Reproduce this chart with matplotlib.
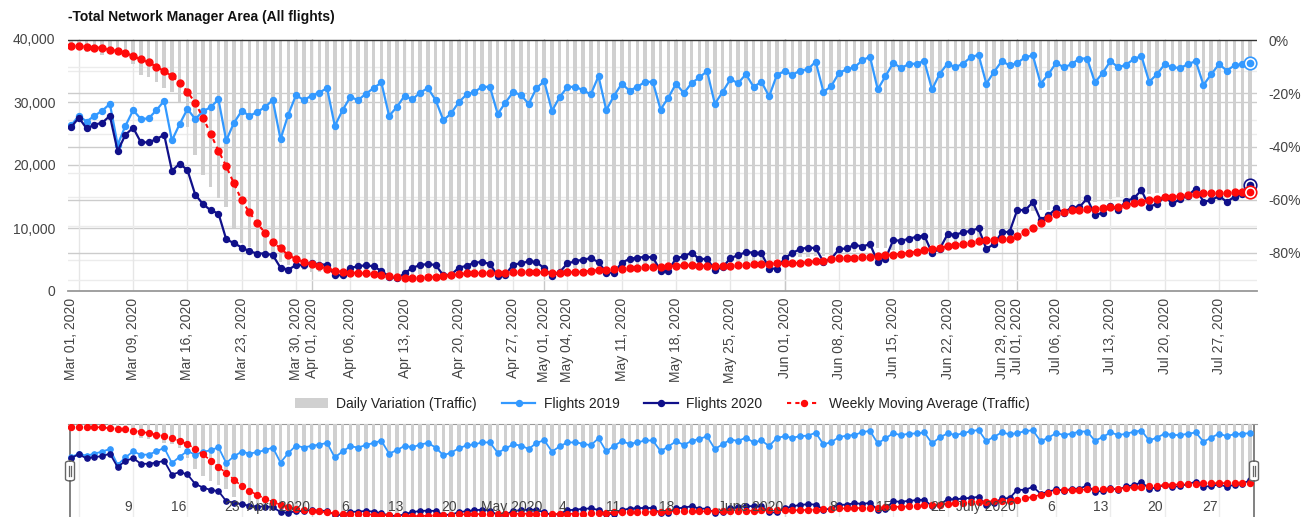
import numpy as np
import pandas as pd
import matplotlib
matplotlib.use("Agg")
import matplotlib.pyplot as plt
from matplotlib.lines import Line2D
from matplotlib.patches import Patch, FancyBboxPatch
import matplotlib.transforms as mtransforms

plt.rcParams['font.family'] = ['Liberation Sans', 'DejaVu Sans']

# ---------------- data ----------------
dates = pd.date_range('2020-03-01', '2020-07-31', freq='D')

flights_2019 = [
    26300, 27800, 26900, 27800, 28600, 29700, 23200, 26200, 28700, 27300,
    27400, 28700, 30200, 23900, 26500, 28900, 27300, 28500, 29200, 30400,
    23900, 26700, 28600, 27800, 28400, 29200, 30300, 24100, 28000, 31100,
    30300, 31000, 31500, 32200, 26200, 28700, 30800, 30300, 31300, 32200,
    33100, 27800, 29200, 31000, 30400, 31500, 32200, 30300, 27100, 28200,
    30000, 31200, 31600, 32400, 32400, 28100, 29900, 31600, 31100, 29700,
    32200, 33300, 28600, 30800, 32400, 32400, 31900, 31200, 34100, 28700,
    31000, 32900, 31800, 32400, 33200, 33200, 28800, 30700, 32900, 31400,
    33000, 33900, 34900, 29700, 31600, 33600, 33000, 34400, 32400, 33200,
    30900, 34300, 34900, 34300, 35000, 35200, 36400, 31600, 32500, 34600,
    35200, 35500, 36600, 37200, 32000, 34100, 36200, 35400, 36000, 36100,
    36500, 32000, 34500, 36100, 35500, 36100, 37100, 37500, 32900, 34800,
    36500, 35800, 36200, 37100, 37400, 32900, 34400, 36200, 35500, 36000,
    36900, 36900, 33100, 34600, 36500, 35500, 35900, 36800, 37300, 33200,
    34400, 36000, 35500, 35400, 36000, 36500, 32700, 34400, 36000, 35000,
    35800, 36000, 36200]

flights_2020 = [
    26000, 27500, 25800, 26400, 26700, 27800, 22200, 24800, 25900, 23600,
    23600, 24100, 24800, 19100, 20200, 19200, 15300, 13800, 12800, 12300,
    8200, 7600, 6900, 6300, 5950, 5950, 5700, 3700, 3400, 4100,
    4100, 4500, 4200, 4200, 2500, 2500, 3700, 3900, 4100, 3900,
    3200, 2300, 2000, 2800, 3700, 4100, 4300, 4100, 2500, 2600,
    3700, 4000, 4500, 4600, 4300, 2400, 2600, 4200, 4400, 4700,
    4600, 3600, 2400, 3000, 4400, 4700, 5000, 5200, 4600, 2900,
    2900, 4500, 5100, 5300, 5400, 5350, 3200, 3250, 5200, 5500,
    6100, 5050, 5100, 3350, 3750, 5200, 5700, 6150, 6100, 6000,
    3550, 3550, 5200, 6050, 6650, 6900, 6800, 4650, 5100, 6650,
    6750, 7350, 7050, 7450, 4600, 5100, 8100, 7950, 8300, 8600,
    8800, 6050, 6700, 9000, 8950, 9300, 9550, 9950, 6700, 7450,
    9300, 9400, 12900, 12800, 14100, 11300, 12000, 13100, 12450, 13250,
    13300, 14700, 12000, 12450, 13550, 12800, 14300, 14700, 16000, 13400,
    13800, 14950, 13900, 14550, 15150, 16250, 14200, 14400, 15100, 14150,
    14950, 15400, 16800]

daily_variation = [
    -1.5, -2.0, -4.4, -4.4, -5.6, -5.0, -5.6, -6.5, -9.0, -13.2,
    -13.8, -15.7, -18.0, -19.4, -23.2, -32.6, -43.2, -50.8, -55.1, -59.5,
    -62.7, -70.8, -76.4, -77.7, -80.0, -81.5, -82.5, -83.5, -84.5, -85.5,
    -86.5, -87.0, -87.2, -87.4, -87.8, -88.2, -88.6, -89.0, -89.4, -89.6,
    -89.6, -89.4, -89.0, -88.6, -88.3, -87.9, -87.6, -87.5, -87.4, -87.5,
    -87.6, -87.2, -87.0, -87.1, -87.2, -87.4, -87.6, -87.4, -87.2, -87.0,
    -86.8, -86.5, -86.3, -86.2, -86.0, -85.8, -85.6, -85.4, -85.3, -85.2,
    -85.0, -84.8, -84.7, -84.6, -84.7, -84.8, -85.0, -85.0, -84.8, -84.6,
    -84.4, -84.2, -84.0, -84.0, -83.9, -83.9, -83.8, -83.6, -83.3, -83.0,
    -82.6, -82.2, -82.0, -81.9, -81.7, -81.5, -81.3, -81.0, -80.6, -80.3,
    -80.0, -79.5, -79.0, -78.6, -78.3, -78.0, -79.0, -78.8, -78.5, -78.0,
    -77.6, -77.2, -76.8, -76.4, -76.0, -75.6, -75.3, -75.0, -74.8, -74.6,
    -74.4, -74.2, -65.0, -64.5, -64.2, -64.0, -63.7, -63.4, -63.0, -62.6,
    -62.0, -61.4, -60.8, -60.2, -59.8, -59.1, -58.9, -58.6, -58.3, -57.9,
    -57.6, -57.4, -57.3, -57.3, -57.2, -57.1, -57.0, -56.9, -56.9, -56.8,
    -56.8, -56.7, -56.6]

weekly_moving_avg = [
    -2.1, -2.3, -2.5, -2.8, -2.9, -3.8, -4.0, -4.8, -6.0, -7.3,
    -8.4, -10.0, -11.7, -13.5, -16.0, -19.4, -23.6, -29.1, -35.3, -41.6,
    -47.4, -53.9, -60.2, -64.8, -68.9, -72.4, -75.8, -78.3, -80.8, -82.3,
    -83.4, -84.2, -85.0, -85.9, -86.7, -87.1, -87.4, -87.5, -87.7, -88.0,
    -88.3, -88.7, -89.1, -89.4, -89.5, -89.4, -89.1, -88.9, -88.6, -88.4,
    -87.9, -87.7, -87.6, -87.5, -87.4, -87.6, -87.5, -87.2, -87.1, -87.1,
    -87.2, -87.3, -87.6, -87.4, -87.3, -87.2, -87.0, -86.7, -86.4, -86.4,
    -86.0, -85.9, -85.8, -85.5, -85.4, -85.3, -85.2, -85.0, -84.8, -84.7,
    -84.7, -84.8, -84.9, -85.0, -85.0, -84.8, -84.7, -84.5, -84.2, -84.0,
    -84.0, -83.9, -83.9, -83.9, -83.7, -83.5, -83.1, -82.9, -82.3, -82.0,
    -82.0, -81.8, -81.6, -81.5, -81.3, -80.9, -80.6, -80.3, -80.0, -79.5,
    -79.0, -78.6, -78.3, -77.4, -77.0, -76.5, -76.2, -75.6, -75.3, -75.0,
    -74.9, -74.7, -73.6, -72.3, -70.6, -68.7, -67.0, -65.4, -64.5, -63.9,
    -63.7, -63.5, -63.3, -63.2, -62.9, -62.7, -62.0, -61.4, -60.8, -60.2,
    -59.8, -59.1, -58.9, -58.6, -58.3, -57.9, -57.6, -57.4, -57.3, -57.3,
    -57.2, -57.1, -57.0]

main_tick_dates = ['2020-03-01', '2020-03-09', '2020-03-16', '2020-03-23', '2020-03-30',
                   '2020-04-01', '2020-04-06', '2020-04-13', '2020-04-20', '2020-04-27',
                   '2020-05-01', '2020-05-04', '2020-05-11', '2020-05-18', '2020-05-25',
                   '2020-06-01', '2020-06-08', '2020-06-15', '2020-06-22', '2020-06-29',
                   '2020-07-01', '2020-07-06', '2020-07-13', '2020-07-20', '2020-07-27']
main_tick_labels = ['Mar 01, 2020', 'Mar 09, 2020', 'Mar 16, 2020', 'Mar 23, 2020', 'Mar 30, 2020',
                    'Apr 01, 2020', 'Apr 06, 2020', 'Apr 13, 2020', 'Apr 20, 2020', 'Apr 27, 2020',
                    'May 01, 2020', 'May 04, 2020', 'May 11, 2020', 'May 18, 2020', 'May 25, 2020',
                    'Jun 01, 2020', 'Jun 08, 2020', 'Jun 15, 2020', 'Jun 22, 2020', 'Jun 29, 2020',
                    'Jul 01, 2020', 'Jul 06, 2020', 'Jul 13, 2020', 'Jul 20, 2020', 'Jul 27, 2020']
nav_tick_dates = ['2020-03-09', '2020-03-16', '2020-03-23', '2020-04-01', '2020-04-06',
                  '2020-04-13', '2020-04-20', '2020-05-01', '2020-05-04', '2020-05-11',
                  '2020-05-18', '2020-06-01', '2020-06-08', '2020-06-15', '2020-06-22',
                  '2020-07-01', '2020-07-06', '2020-07-13', '2020-07-20', '2020-07-27']
nav_tick_labels = ['9', '16', '23', 'April 2020', '6', '13', '20', 'May 2020', '4', '11',
                   '18', 'June 2020', '8', '15', '22', 'July 2020', '6', '13', '20', '27']
left_ticks = [0, 10000, 20000, 30000, 40000]
left_tick_labels = ['0', '10,000', '20,000', '30,000', '40,000']
right_ticks = [0, -20, -40, -60, -80]
right_tick_labels = ['0%', '-20%', '-40%', '-60%', '-80%']

series_labels = ['Daily Variation (Traffic)', 'Flights 2019', 'Flights 2020',
                 'Weekly Moving Average (Traffic)']
title = '-Total Network Manager Area (All flights)'

# ---------------- styling ----------------
C19 = '#3399ff'
C20 = '#10108a'
CMA = '#ff0a0a'
CBAR = '#d0d0d0'
TXT = '#444444'

x = (dates - dates[0]).days.values
xlim = (-0.4, 152.9)
mondays = pd.date_range('2020-03-02', '2020-07-31', freq='7D')
month_starts = pd.to_datetime(['2020-04-01', '2020-05-01', '2020-06-01', '2020-07-01'])
mon_x = (mondays - dates[0]).days.values
mstart_x = (month_starts - dates[0]).days.values
main_tx = (pd.to_datetime(main_tick_dates) - dates[0]).days.values
nav_tx = (pd.to_datetime(nav_tick_dates) - dates[0]).days.values

W, H = 1310, 517
fig = plt.figure(figsize=(W / 100, H / 100), dpi=100)


def rect(l, t, r, b):
    return [l / W, 1 - b / H, (r - l) / W, (b - t) / H]


def make_stack(r):
    g = fig.add_axes(r)
    b = g.twinx()
    l = g.twinx()
    m = g.twinx()
    for i, a in enumerate((g, b, l, m)):
        a.set_zorder(i)
        a.set_xlim(*xlim)
        for s in a.spines.values():
            s.set_visible(False)
        if i > 0:
            a.patch.set_visible(False)
    g.set_ylim(0, 40000)
    l.set_ylim(0, 40000)
    b.set_ylim(-94.3, 0.4)
    m.set_ylim(-94.3, 0.4)
    return g, b, l, m


# ---------------- main chart ----------------
axg, axb, axl, axm = make_stack(rect(68, 39, 1257, 291))

for v in range(5000, 40000, 5000):
    axg.axhline(v, color='#cccccc' if v % 10000 == 0 else '#ececec', lw=1, zorder=0)
for v in range(-90, 0, 10):
    axb.axhline(v, color='#cccccc' if v % 20 == 0 else '#ececec', lw=1, zorder=0)
for xv in mon_x:
    axg.axvline(xv, color='#e6e6e6', lw=1, zorder=0)
for xv in mstart_x:
    axg.axvline(xv, color='#c8c8c8', lw=1, zorder=0)

axb.bar(x, daily_variation, width=0.45, color=CBAR, zorder=2)
axb.axhline(0, color='#333333', lw=1, zorder=3)
axg.spines['bottom'].set_visible(True)
axg.spines['bottom'].set_color('#999999')
axg.spines['bottom'].set_linewidth(1.3)

axl.plot(x, flights_2019, color=C19, lw=1.6, marker='o', ms=4.3, zorder=3)
axl.plot(x, flights_2020, color=C20, lw=1.6, marker='o', ms=4.3, zorder=4)
axm.plot(x, weekly_moving_avg, color=CMA, lw=1.5, ls=(0, (2, 2)), marker='o', ms=5, zorder=5)

# highlighted last points
for a, ys, c in ((axl, flights_2019, C19), (axl, flights_2020, C20), (axm, weekly_moving_avg, CMA)):
    a.plot(x[-1], ys[-1], 'o', ms=9, mfc='white', mec=c, mew=1.2, zorder=6)
    a.plot(x[-1], ys[-1], 'o', ms=4.5, color=c, zorder=7)

axg.set_yticks(left_ticks)
axg.set_yticklabels(left_tick_labels)
axg.tick_params(axis='y', length=0, pad=9, labelsize=10, labelcolor=TXT)
axb.set_yticks([])
axl.set_yticks([])
axm.set_yticks(right_ticks)
axm.set_yticklabels(right_tick_labels)
axm.tick_params(axis='y', length=0, pad=8, labelsize=10, labelcolor=TXT)
for t in axm.get_yticklabels():
    t.set_horizontalalignment('left')

axg.set_xticks(main_tx)
axg.set_xticklabels(main_tick_labels, rotation=90)
axg.tick_params(axis='x', length=0, pad=5, labelsize=10, labelcolor=TXT)

fig.text(68 / W, 1 - 17 / H, title, fontsize=10, fontweight='bold', color='#111111',
         ha='left', va='center')

# ---------------- legend ----------------
handles = [
    Patch(facecolor=CBAR, edgecolor='none'),
    Line2D([], [], color=C19, lw=1.6, marker='o', ms=4.3),
    Line2D([], [], color=C20, lw=1.6, marker='o', ms=4.3),
    Line2D([], [], color=CMA, lw=1.5, ls=(0, (2, 2)), marker='o', ms=4.3),
]
leg = fig.legend(handles, series_labels, loc='center', bbox_to_anchor=(662 / W, 1 - 404 / H),
                 ncol=4, frameon=False, fontsize=10, handlelength=2.4, columnspacing=1.8,
                 handletextpad=0.6)
for t in leg.get_texts():
    t.set_color('#222222')

# ---------------- navigator ----------------
ng, nb, nl, nm = make_stack(rect(68, 424, 1257, 521))
for xv in mon_x:
    ng.axvline(xv, color='#ececec', lw=1, zorder=0)
for xv in mstart_x:
    ng.axvline(xv, color='#d5d5d5', lw=1, zorder=0)
nb.bar(x, daily_variation, width=0.45, color=CBAR, zorder=2)
nl.plot(x, flights_2019, color=C19, lw=1.3, marker='o', ms=3.8, zorder=3)
nl.plot(x, flights_2020, color=C20, lw=1.3, marker='o', ms=3.8, zorder=4)
nm.plot(x, weekly_moving_avg, color=CMA, lw=1.2, ls=(0, (2, 2)), marker='o', ms=4.3, zorder=5)
for a in (ng, nb, nl, nm):
    a.set_yticks([])
ng.set_xticks([])
for s in ('top',):
    ng.spines[s].set_visible(True)
    ng.spines[s].set_color('#999999')
ng.axvline(xlim[0] + 0.25, color='#777777', lw=1.3, zorder=1)
ng.axvline(xlim[1] - 0.35, color='#777777', lw=1.3, zorder=1)
trans = mtransforms.blended_transform_factory(nm.transData, nm.transAxes)
for xv, lab in zip(nav_tx, nav_tick_labels):
    nm.text(xv - 0.2, 0.14, lab, transform=trans, ha='right', va='center', fontsize=10,
            color=TXT, zorder=8)

# handles of the range selector
for cx in (70, 1254):
    w, h = 9, 20
    fig.add_artist(FancyBboxPatch(((cx - w / 2) / W, 1 - (471 + h / 2) / H), w / W, h / H,
                                  boxstyle='round,pad=0,rounding_size=0.004',
                                  transform=fig.transFigure, facecolor='white',
                                  edgecolor='#666666', lw=1, zorder=20))
    for dx in (-1.3, 1.3):
        fig.add_artist(Line2D([(cx + dx) / W] * 2, [1 - 466 / H, 1 - 476 / H],
                              transform=fig.transFigure, color='#666666', lw=0.9, zorder=21))

fig.savefig('out.png', dpi=100)
